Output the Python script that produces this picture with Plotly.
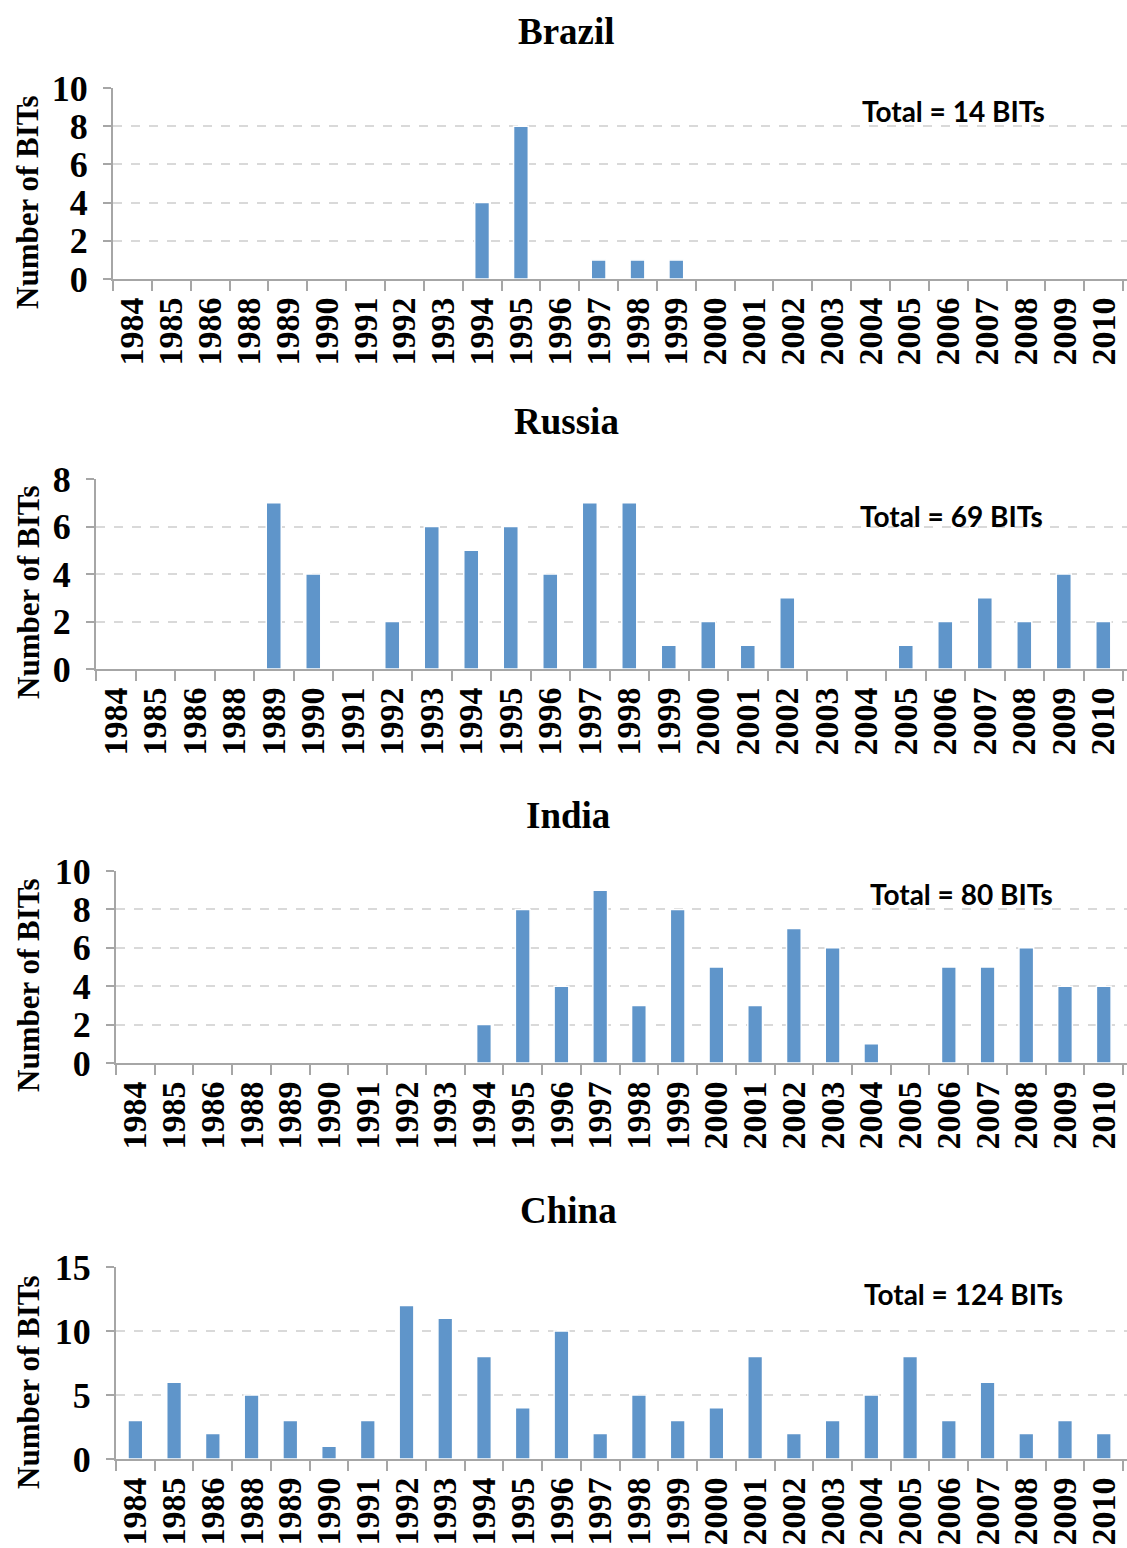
import plotly.graph_objects as go

years = ["1984","1985","1986","1988","1989","1990","1991","1992","1993","1994","1995","1996","1997",
         "1998","1999","2000","2001","2002","2003","2004","2005","2006","2007","2008","2009","2010"]

brazil = [0,0,0,0,0,0,0,0,0,4,8,0,1,1,1,0,0,0,0,0,0,0,0,0,0,0]
russia = [0,0,0,0,7,4,0,2,6,5,6,4,7,7,1,2,1,3,0,0,1,2,3,2,4,2]
india  = [0,0,0,0,0,0,0,0,0,2,8,4,9,3,8,5,3,7,6,1,0,5,5,6,4,4]
china  = [3,6,2,5,3,1,3,12,11,8,4,10,2,5,3,4,8,2,3,5,8,3,6,2,3,2]

names = ["Brazil", "Russia", "India", "China"]
totals = ["Total = 14 BITs", "Total = 69 BITs", "Total = 80 BITs", "Total = 124 BITs"]
series = [brazil, russia, india, china]
ymax = [10, 8, 10, 15]
dticks = [2, 2, 2, 5]

W, H = 1127, 1548
# pixel layout: (axis x, top y, bottom y, title y, total x, total y, ytitle y, title x)
geo = [
    (113, 88, 279, 32, 953, 111, 202, 566),
    (96, 479, 669, 421, 951, 516, 592, 566),
    (116, 871, 1063, 815, 961, 894, 985, 568),
    (116, 1267, 1459, 1210, 963, 1294, 1382, 568),
]

fig = go.Figure()
serif = "Liberation Serif"
bar_color = "#5F95CA"
annotations = []
for i, (nm, vals) in enumerate(zip(names, series)):
    ax, ty, by, tity, totx, toty, yty, titx = geo[i]
    xa = "x" if i == 0 else f"x{i+1}"
    ya = "y" if i == 0 else f"y{i+1}"
    fig.add_trace(go.Bar(x=years, y=vals, xaxis=xa, yaxis=ya,
                         marker=dict(color=bar_color, line=dict(color="white", width=1.5)),
                         showlegend=False, hoverinfo="x+y"))
    xkey = "xaxis" if i == 0 else f"xaxis{i+1}"
    ykey = "yaxis" if i == 0 else f"yaxis{i+1}"
    fig.update_layout({
        xkey: dict(domain=[ax / W, 1.0], anchor=ya, type="category", automargin=False,
                   range=[-0.5, 25.6], tickangle=-90,
                   tickmode="array", tickvals=years, ticktext=years,
                   tickfont=dict(family=serif, size=34, color="black", weight="bold"),
                   ticklabelstandoff=3,
                   showline=True, linecolor="#a6a6a6", linewidth=2,
                   ticks="outside", tickson="boundaries", ticklen=10, tickcolor="#a6a6a6", tickwidth=2,
                   showgrid=False, fixedrange=True),
        ykey: dict(domain=[1 - by / H, 1 - ty / H], anchor=xa, range=[0, ymax[i]], dtick=dticks[i],
                   automargin=False,
                   tickfont=dict(family=serif, size=36, color="black", weight="bold"),
                   ticklabelstandoff=8,
                   showline=True, linecolor="#a6a6a6", linewidth=2,
                   ticks="outside", ticklen=8, tickcolor="#a6a6a6", tickwidth=2,
                   showgrid=True, gridcolor="#d9d9d9", griddash="dash", gridwidth=1.5,
                   zeroline=False, fixedrange=True),
    })
    annotations.append(dict(text=f"<b>{nm}</b>", x=titx / W, y=1 - tity / H, xref="paper", yref="paper",
                            showarrow=False, xanchor="center", yanchor="middle",
                            font=dict(family=serif, size=37, color="black")))
    annotations.append(dict(text=f"<b>{totals[i]}</b>", x=totx / W, y=1 - toty / H, xref="paper", yref="paper",
                            showarrow=False, xanchor="center", yanchor="middle",
                            font=dict(family="Lato", size=28, color="black")))
    annotations.append(dict(text="<b>Number of BITs</b>", x=28 / W, y=1 - yty / H, xref="paper", yref="paper",
                            showarrow=False, xanchor="center", yanchor="middle", textangle=-90,
                            font=dict(family=serif, size=31, color="black")))

fig.update_layout(width=W, height=H, margin=dict(l=0, r=0, t=0, b=0, autoexpand=False),
                  paper_bgcolor="white", plot_bgcolor="white",
                  bargap=0.62, annotations=annotations)

fig.write_html("out.html", config={"displayModeBar": False},
               post_script="document.body.style.margin='0';document.body.style.overflow='hidden';")
